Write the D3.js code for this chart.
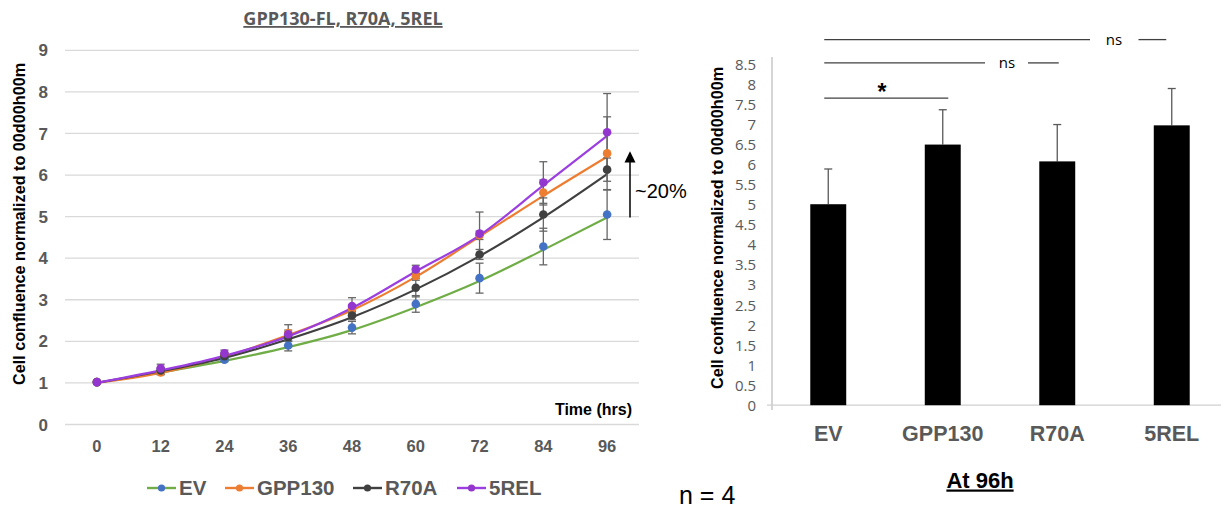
<!DOCTYPE html>
<html>
<head>
<meta charset="utf-8">
<script src="https://cdn.jsdelivr.net/npm/d3@7"></script>
<style>
  html, body { margin: 0; padding: 0; background: #fff; }
  svg { display: block; }
</style>
</head>
<body>
<div id="chart"></div>
<script>
// time points (hrs)
const times = [0, 12, 24, 36, 48, 60, 72, 84, 96]
const seriesNames = ['EV', 'GPP130', 'R70A', '5REL']

// measured points
const evValues  = [1.02, 1.28, 1.56, 1.90, 2.33, 2.90, 3.52, 4.28, 5.05]
const gppValues = [1.02, 1.25, 1.67, 2.20, 2.78, 3.57, 4.55, 5.58, 6.52]
const r70Values = [1.02, 1.30, 1.64, 2.10, 2.62, 3.29, 4.09, 5.05, 6.13]
const relValues = [1.02, 1.35, 1.71, 2.17, 2.85, 3.73, 4.59, 5.82, 7.03]

// error (+/-)
const evErr  = [0, 0.08, 0.05, 0.13, 0.15, 0.20, 0.36, 0.44, 0.60]
const gppErr = [0, 0.05, 0.06, 0.20, 0.10, 0.10, 0.10, 0.30, 0.88]
const r70Err = [0, 0.05, 0.05, 0.10, 0.10, 0.22, 0.12, 0.40, 0.28]
const relErr = [0, 0.10, 0.08, 0.10, 0.20, 0.10, 0.52, 0.50, 0.93]

// trend lines as drawn in the figure
const evTrend  = [1.0, 1.25, 1.53, 1.86, 2.27, 2.82, 3.45, 4.20, 4.98]
const gppTrend = [1.0, 1.24, 1.63, 2.15, 2.75, 3.55, 4.52, 5.50, 6.44]
const r70Trend = [1.0, 1.28, 1.60, 2.05, 2.58, 3.25, 4.05, 4.98, 6.02]
const relTrend = [1.0, 1.30, 1.65, 2.12, 2.80, 3.68, 4.55, 5.75, 6.94]

const yTicksLeft = [0, 1, 2, 3, 4, 5, 6, 7, 8, 9]

// bar chart at 96h
const barCats = ['EV', 'GPP130', 'R70A', '5REL']
const barValues = [5.02, 6.51, 6.09, 6.99]
const barErr = [0.88, 0.87, 0.92, 0.92]
const yTicksRight = d3.range(0, 8.51, 0.5)

const W = 1221, H = 510
const grey = '#595959'
const arial = '"Liberation Sans", Arial, sans-serif'
const calibri = '"Open Sans", Calibri, sans-serif'

const svg = d3.select('#chart').append('svg')
  .attr('width', W)
  .attr('height', H)

// ---------- left: growth curves ----------
const x = d3.scalePoint().domain(times).range([65, 639]).padding(0.5)
const y = d3.scaleLinear().domain([0, 9]).range([424.5, 50.3])

const series = [
  { name: 'EV', values: evValues, err: evErr, trend: evTrend, line: '#70AD47', marker: '#4472C4' },
  { name: 'GPP130', values: gppValues, err: gppErr, trend: gppTrend, line: '#ED7D31', marker: '#ED7D31' },
  { name: 'R70A', values: r70Values, err: r70Err, trend: r70Trend, line: '#404040', marker: '#404040' },
  { name: '5REL', values: relValues, err: relErr, trend: relTrend, line: '#9B3FE0', marker: '#9336D0' }
]

const left = svg.append('g')

// gridlines
left.selectAll('line.grid')
  .data(yTicksLeft)
  .enter().append('line')
    .attr('x1', 65).attr('x2', 639)
    .attr('y1', d => y(d)).attr('y2', d => y(d))
    .attr('stroke', '#d9d9d9')
    .attr('stroke-width', 1.3)

// y tick labels
left.selectAll('text.ytick')
  .data(yTicksLeft)
  .enter().append('text')
    .attr('x', 48)
    .attr('y', d => y(d))
    .attr('dy', '0.36em')
    .attr('text-anchor', 'end')
    .style('font', `bold 17px ${arial}`)
    .style('fill', grey)
    .text(d => d)

// x tick labels
left.selectAll('text.xtick')
  .data(times)
  .enter().append('text')
    .attr('x', d => x(d))
    .attr('y', 451.5)
    .attr('text-anchor', 'middle')
    .style('font', `bold 16.5px ${arial}`)
    .style('fill', grey)
    .text(d => d)

left.append('text')
  .attr('x', 632).attr('y', 415)
  .attr('text-anchor', 'end')
  .style('font', `bold 16px ${arial}`)
  .style('fill', '#000')
  .text('Time (hrs)')

left.append('text')
  .attr('transform', 'translate(25,224) rotate(-90)')
  .attr('text-anchor', 'middle')
  .style('font', `bold 16.2px ${arial}`)
  .style('fill', '#000')
  .text('Cell confluence normalized to 00d00h00m')

left.append('text')
  .attr('x', 343).attr('y', 25)
  .attr('text-anchor', 'middle')
  .style('font', `bold 18px ${calibri}`)
  .style('fill', grey)
  .style('text-decoration', 'underline')
  .text('GPP130-FL, R70A, 5REL')

// trend lines
const line = d3.line()
  .x((d, i) => x(times[i]))
  .y(d => y(d))
  .curve(d3.curveMonotoneX)

left.selectAll('path.trend')
  .data(series)
  .enter().append('path')
    .attr('d', d => line(d.trend))
    .attr('fill', 'none')
    .attr('stroke', d => d.line)
    .attr('stroke-width', 2.2)

// error bars
series.forEach(s => {
  const g = left.append('g')
    .attr('stroke', '#666')
    .attr('stroke-width', 1.3)
  s.values.forEach((v, i) => {
    const e = s.err[i]
    if (!e) return
    const cx = x(times[i])
    g.append('line').attr('x1', cx).attr('x2', cx).attr('y1', y(v - e)).attr('y2', y(v + e))
    g.append('line').attr('x1', cx - 4).attr('x2', cx + 4).attr('y1', y(v - e)).attr('y2', y(v - e))
    g.append('line').attr('x1', cx - 4).attr('x2', cx + 4).attr('y1', y(v + e)).attr('y2', y(v + e))
  })
})

// markers
series.forEach(s => {
  left.selectAll(null)
    .data(s.values)
    .enter().append('circle')
      .attr('cx', (d, i) => x(times[i]))
      .attr('cy', d => y(d))
      .attr('r', 4.3)
      .attr('fill', s.marker)
})

// ~20% arrow
const ax = 630
left.append('line')
  .attr('x1', ax).attr('x2', ax)
  .attr('y1', y(4.98)).attr('y2', y(6.35))
  .attr('stroke', '#000').attr('stroke-width', 1.5)
left.append('path')
  .attr('d', `M${ax},${y(6.57)} L${ax - 5.5},${y(6.3)} L${ax + 5.5},${y(6.3)} Z`)
  .attr('fill', '#000')
left.append('text')
  .attr('x', 635).attr('y', 198)
  .style('font', `20px ${arial}`)
  .style('fill', '#000')
  .text('~20%')

// legend
const legendX = [147, 225, 353, 457]
const legend = left.selectAll('g.legend')
  .data(series)
  .enter().append('g')
    .attr('transform', (d, i) => `translate(${legendX[i]},488)`)
legend.append('line')
  .attr('x1', 0).attr('x2', 29)
  .attr('stroke', d => d.line).attr('stroke-width', 2.4)
legend.append('circle')
  .attr('cx', 14.5).attr('r', 3.6)
  .attr('fill', d => d.marker)
legend.append('text')
  .attr('x', 32).attr('dy', '0.36em')
  .style('font', `bold 20.5px ${arial}`)
  .style('fill', grey)
  .text(d => d.name)

// n = 4
svg.append('text')
  .attr('x', 679).attr('y', 504)
  .style('font', `25px ${arial}`)
  .style('fill', '#000')
  .text('n = 4')

// ---------- right: bars at 96h ----------
const xb = d3.scaleBand().domain(barCats).range([771, 1229])
  .paddingInner(0.686).paddingOuter(0.343)
const yb = d3.scaleLinear().domain([0, 8.5]).range([405.2, 64.9])

const right = svg.append('g')

right.append('line')
  .attr('x1', 772).attr('x2', 772)
  .attr('y1', 57).attr('y2', 410)
  .attr('stroke', '#bfbfbf').attr('stroke-width', 1.3)
right.append('line')
  .attr('x1', 767).attr('x2', 1221)
  .attr('y1', yb(0)).attr('y2', yb(0))
  .attr('stroke', '#d0d0d0').attr('stroke-width', 1.3)

right.selectAll('text.ytick')
  .data(yTicksRight)
  .enter().append('text')
    .attr('x', 756)
    .attr('y', d => yb(d))
    .attr('dy', '0.36em')
    .attr('text-anchor', 'end')
    .style('font', `15px ${calibri}`)
    .style('fill', grey)
    .text(d => d)

right.append('text')
  .attr('transform', 'translate(723,228) rotate(-90)')
  .attr('text-anchor', 'middle')
  .style('font', `bold 16.2px ${arial}`)
  .style('fill', '#000')
  .text('Cell confluence normalized to 00d00h00m')

// error bars (upper only)
right.selectAll('g.err')
  .data(barValues)
  .enter().append('g')
    .attr('stroke', grey).attr('stroke-width', 1.3)
    .each(function (d, i) {
      const cx = xb(barCats[i]) + xb.bandwidth() / 2
      const g = d3.select(this)
      g.append('line').attr('x1', cx).attr('x2', cx).attr('y1', yb(d)).attr('y2', yb(d + barErr[i]))
      g.append('line').attr('x1', cx - 4).attr('x2', cx + 4).attr('y1', yb(d + barErr[i])).attr('y2', yb(d + barErr[i]))
    })

right.selectAll('rect.bar')
  .data(barValues)
  .enter().append('rect')
    .attr('x', (d, i) => xb(barCats[i]))
    .attr('y', d => yb(d))
    .attr('width', xb.bandwidth())
    .attr('height', d => yb(0) - yb(d))
    .attr('fill', '#000')

right.selectAll('text.cat')
  .data(barCats)
  .enter().append('text')
    .attr('x', d => xb(d) + xb.bandwidth() / 2)
    .attr('y', 440.5)
    .attr('text-anchor', 'middle')
    .style('font', `bold 21.5px ${arial}`)
    .style('fill', grey)
    .text(d => d)

right.append('text')
  .attr('x', 980).attr('y', 487.5)
  .attr('text-anchor', 'middle')
  .style('font', `bold 22px ${arial}`)
  .style('fill', '#000')
  .style('text-decoration', 'underline')
  .text('At 96h')

// significance lines
const sig = right.append('g').attr('stroke', '#404040').attr('stroke-width', 1.3)
const ctr = c => xb(c) + xb.bandwidth() / 2
sig.append('line').attr('x1', ctr('EV') - 4).attr('x2', 1090).attr('y1', 39.6).attr('y2', 39.6)
sig.append('line').attr('x1', 1138.5).attr('x2', ctr('5REL') - 5.5).attr('y1', 39.6).attr('y2', 39.6)
sig.append('line').attr('x1', ctr('EV') - 4).attr('x2', 985).attr('y1', 62.9).attr('y2', 62.9)
sig.append('line').attr('x1', 1028).attr('x2', ctr('R70A') + 1.5).attr('y1', 62.9).attr('y2', 62.9)
sig.append('line').attr('x1', ctr('EV') - 4).attr('x2', ctr('GPP130') + 5.5).attr('y1', 98.1).attr('y2', 98.1)

right.append('text').attr('x', 1114).attr('y', 40).attr('dy', '0.3em')
  .attr('text-anchor', 'middle')
  .style('font', `15px ${calibri}`).style('fill', '#000').text('ns')
right.append('text').attr('x', 1007).attr('y', 63).attr('dy', '0.3em')
  .attr('text-anchor', 'middle')
  .style('font', `15px ${calibri}`).style('fill', '#000').text('ns')
right.append('text').attr('x', 882).attr('y', 100)
  .attr('text-anchor', 'middle')
  .style('font', `bold 23px ${arial}`).style('fill', '#000').text('*')
</script>
</body>
</html>
